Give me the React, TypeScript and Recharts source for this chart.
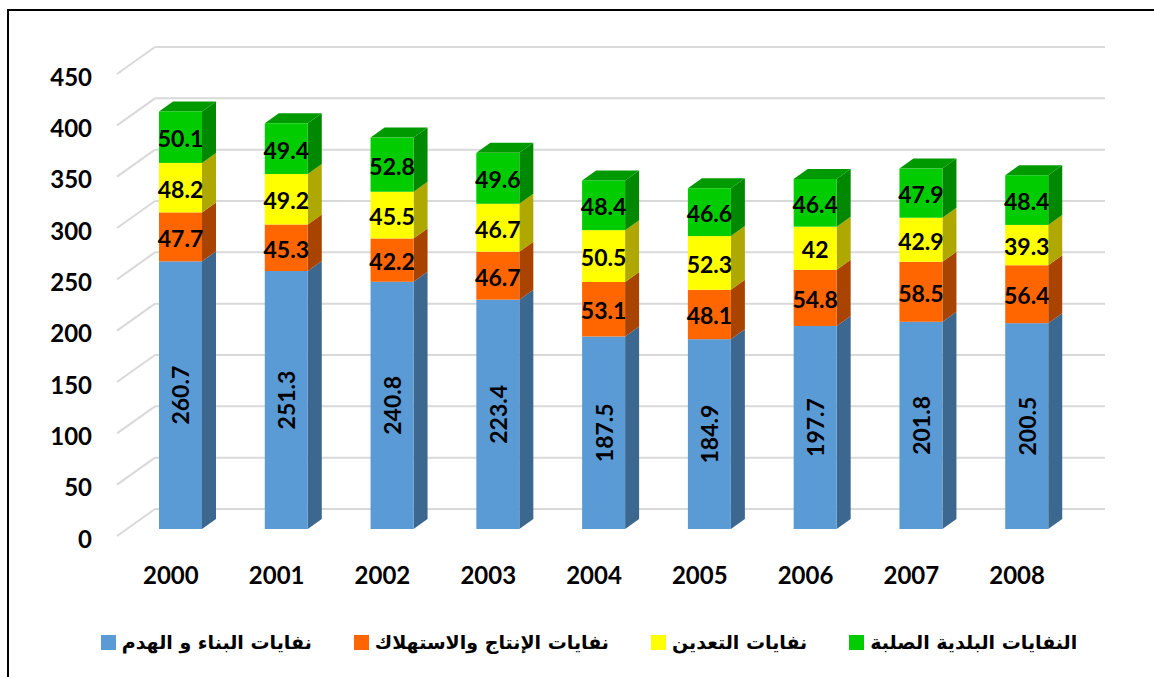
import React from 'react';
import {
  BarChart, Bar, XAxis, YAxis, CartesianGrid, LabelList, Legend
} from 'recharts';

const years = ['2000', '2001', '2002', '2003', '2004', '2005', '2006', '2007', '2008'];
const construction = [260.7, 251.3, 240.8, 223.4, 187.5, 184.9, 197.7, 201.8, 200.5];
const production = [47.7, 45.3, 42.2, 46.7, 53.1, 48.1, 54.8, 58.5, 56.4];
const mining = [48.2, 49.2, 45.5, 46.7, 50.5, 52.3, 42, 42.9, 39.3];
const municipal = [50.1, 49.4, 52.8, 49.6, 48.4, 46.6, 46.4, 47.9, 48.4];
const yTicks = [0, 50, 100, 150, 200, 250, 300, 350, 400, 450];

const seriesNames = {
  construction: 'نفايات البناء و الهدم',
  production: 'نفايات الإنتاج والاستهلاك',
  mining: 'نفايات التعدين',
  municipal: 'النفايات البلدية الصلبة',
};

const data = years.map((y, i) => ({
  year: y,
  construction: construction[i],
  production: production[i],
  mining: mining[i],
  municipal: municipal[i],
}));

const DX = 14;
const DY = -10;

const COLORS = {
  construction: { front: '#5B9BD5', side: '#3C6890', top: '#4A86BD' },
  production: { front: '#FF6600', side: '#A84300', top: '#D05300' },
  mining: { front: '#FFFF00', side: '#AEA800', top: '#D6D600' },
  municipal: { front: '#00CC00', side: '#008800', top: '#009A00' },
};

const NUM_FONT = 'Lato, "Open Sans", sans-serif';

function makeShape(c: { front: string; side: string; top: string }, withTop: boolean) {
  return (props: any) => {
    const { x, y, width: w, height: h } = props;
    if (!h) return <g />;
    const side = `${x + w},${y} ${x + w + DX},${y + DY} ${x + w + DX},${y + h + DY} ${x + w},${y + h}`;
    const top = `${x},${y} ${x + DX},${y + DY} ${x + w + DX},${y + DY} ${x + w},${y}`;
    return (
      <g>
        <polygon points={side} fill={c.side} />
        {withTop && <polygon points={top} fill={c.top} />}
        <rect x={x} y={y} width={w} height={h} fill={c.front} />
      </g>
    );
  };
}

const flatLabel = (props: any) => {
  const { x, y, width, height, value } = props;
  return (
    <text
      x={x + width / 2}
      y={y + height / 2 + 1}
      textAnchor="middle"
      dominantBaseline="central"
      fontFamily={NUM_FONT}
      fontWeight="bold"
      fontSize={23}
      fill="#000"
    >
      {value}
    </text>
  );
};

const verticalLabel = (props: any) => {
  const { x, y, width, height, value } = props;
  const cx = x + width / 2;
  const cy = y + height / 2;
  return (
    <text
      x={cx}
      y={cy}
      transform={`rotate(-90 ${cx} ${cy})`}
      textAnchor="middle"
      dominantBaseline="central"
      fontFamily={NUM_FONT}
      fontWeight="bold"
      fontSize={23}
      fill="#000"
    >
      {value}
    </text>
  );
};

const gridLine = (props: any) => {
  const { x1, y1, x2 } = props;
  return (
    <g key={props.key}>
      <line x1={x1 - 11} y1={y1 + 7} x2={x1 + 27} y2={y1 - 20} stroke="#D9D9D9" strokeWidth={2} />
      <line x1={x1 + 27} y1={y1 - 20} x2={x2 + 25} y2={y1 - 20} stroke="#D9D9D9" strokeWidth={2} />
    </g>
  );
};

const YTick = (props: any) => {
  const { x, y, payload } = props;
  return (
    <text x={x} y={y + 9} textAnchor="end" dominantBaseline="central"
      fontFamily={NUM_FONT} fontWeight="bold" fontSize={24} fill="#000">
      {payload.value}
    </text>
  );
};

const XTick = (props: any) => {
  const { x, y, payload } = props;
  return (
    <text x={x - 10} y={y + 45} textAnchor="middle" dominantBaseline="central"
      fontFamily={NUM_FONT} fontWeight="bold" fontSize={24} fill="#000">
      {payload.value}
    </text>
  );
};

const legendOrder: (keyof typeof COLORS)[] = ['construction', 'production', 'mining', 'municipal'];

const LegendContent = () => (
  <div style={{ display: 'flex', justifyContent: 'center', alignItems: 'center', gap: 42, height: 80, paddingTop: 46, paddingLeft: 30, boxSizing: 'border-box' }}>
    {legendOrder.map(k => (
      <div key={k} style={{ display: 'flex', alignItems: 'center', gap: 6 }}>
        <span style={{ width: 15, height: 15, background: COLORS[k].front, display: 'inline-block' }} />
        <span style={{ fontFamily: '"DejaVu Sans", sans-serif', fontWeight: 'bold', fontSize: 19, color: '#000', direction: 'rtl' }}>
          {seriesNames[k]}
        </span>
      </div>
    ))}
  </div>
);

export default function App() {
  return (
    <div style={{ position: 'absolute', left: 0, top: 0, width: 1154, height: 677, background: '#fff', overflow: 'hidden' }}>
      <div style={{ position: 'absolute', left: 7, top: 9, width: 1200, height: 700, borderLeft: '2px solid #000', borderTop: '2px solid #000' }} />
      <div style={{ position: 'absolute', left: 0, top: 0 }}>
        <BarChart width={1154} height={677} data={data} barSize={43}
          margin={{ top: 67, right: 74, left: 68, bottom: 48 }}>
          <CartesianGrid vertical={false} horizontal={gridLine} />
          <XAxis dataKey="year" axisLine={false} tickLine={false} tickSize={0} tickMargin={0} height={50} tick={<XTick />} />
          <YAxis domain={[0, 450]} ticks={yTicks} axisLine={false} tickLine={false} tickSize={0} tickMargin={36} width={60} tick={<YTick />} />
          <Legend verticalAlign="bottom" height={50} content={<LegendContent />} />
          <Bar dataKey="construction" name={seriesNames.construction} stackId="a" isAnimationActive={false}
            fill={COLORS.construction.front} shape={makeShape(COLORS.construction, false)}>
            <LabelList dataKey="construction" content={verticalLabel} />
          </Bar>
          <Bar dataKey="production" name={seriesNames.production} stackId="a" isAnimationActive={false}
            fill={COLORS.production.front} shape={makeShape(COLORS.production, false)}>
            <LabelList dataKey="production" content={flatLabel} />
          </Bar>
          <Bar dataKey="mining" name={seriesNames.mining} stackId="a" isAnimationActive={false}
            fill={COLORS.mining.front} shape={makeShape(COLORS.mining, false)}>
            <LabelList dataKey="mining" content={flatLabel} />
          </Bar>
          <Bar dataKey="municipal" name={seriesNames.municipal} stackId="a" isAnimationActive={false}
            fill={COLORS.municipal.front} shape={makeShape(COLORS.municipal, true)}>
            <LabelList dataKey="municipal" content={flatLabel} />
          </Bar>
        </BarChart>
      </div>
    </div>
  );
}
